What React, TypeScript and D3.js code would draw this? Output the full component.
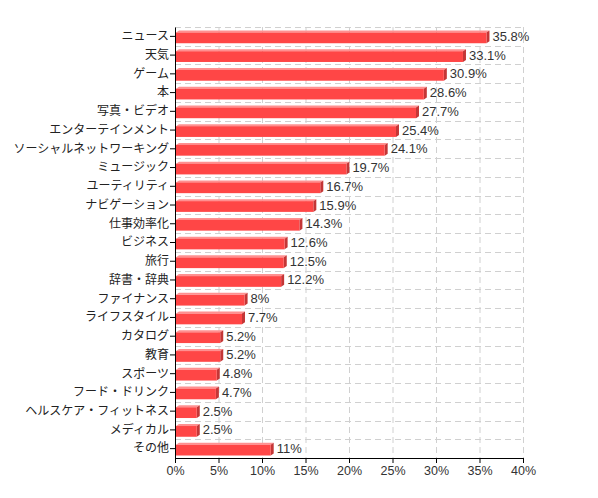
import { useEffect, useRef } from 'react'
import * as d3 from 'd3'

const categories = [
  'ニュース', '天気', 'ゲーム', '本', '写真・ビデオ', 'エンターテインメント',
  'ソーシャルネットワーキング', 'ミュージック', 'ユーティリティ', 'ナビゲーション',
  '仕事効率化', 'ビジネス', '旅行', '辞書・辞典', 'ファイナンス', 'ライフスタイル',
  'カタログ', '教育', 'スポーツ', 'フード・ドリンク', 'ヘルスケア・フィットネス',
  'メディカル', 'その他'
]
const values = [
  35.8, 33.1, 30.9, 28.6, 27.7, 25.4, 24.1, 19.7, 16.7, 15.9, 14.3, 12.6,
  12.5, 12.2, 8, 7.7, 5.2, 5.2, 4.8, 4.7, 2.5, 2.5, 11
]
const xTicks = [0, 5, 10, 15, 20, 25, 30, 35, 40]

const FONT = '"Liberation Sans", Arial, "Noto Sans CJK JP", sans-serif'

export default function App() {
  const svgRef = useRef<SVGSVGElement>(null)

  useEffect(() => {
    if (!svgRef.current) return
    const width = 598
    const height = 498
    const margin = { top: 27, right: 75, bottom: 40, left: 175 }
    const innerWidth = width - margin.left - margin.right
    const innerHeight = height - margin.top - margin.bottom

    const svg = d3.select(svgRef.current)
    svg.selectAll('*').remove()
    svg.attr('width', width).attr('height', height)

    const g = svg.append('g').attr('transform', `translate(${margin.left},${margin.top})`)

    const x = d3.scaleLinear().domain([0, 40]).range([0, innerWidth])
    const y = d3.scaleBand<string>().domain(categories).range([0, innerHeight])
    const bw = y.bandwidth()

    // 网格线
    const grid = g.append('g').attr('stroke', '#d0d0d0').attr('stroke-dasharray', '6,4')
    grid.selectAll('line.v')
      .data(xTicks.slice(1))
      .enter()
      .append('line')
      .attr('x1', d => x(d) + 0.5)
      .attr('x2', d => x(d) + 0.5)
      .attr('y1', 0)
      .attr('y2', innerHeight)
    grid.selectAll('line.h')
      .data(categories)
      .enter()
      .append('line')
      .attr('x1', 0)
      .attr('x2', innerWidth)
      .attr('y1', d => Math.round(y(d)!) + 0.5)
      .attr('y2', d => Math.round(y(d)!) + 0.5)

    // 3D bars
    const depth = 3
    const rise = 2
    const bars = g.selectAll('g.bar')
      .data(categories.map((c, i) => ({ c, v: values[i] })))
      .enter()
      .append('g')

    const top = (d: { c: string }) => y(d.c)! + 5.5
    const bh = bw - 8

    bars.append('polygon')
      .attr('points', d => {
        const x0 = 1, x1 = x(d.v), t = top(d)
        return `${x0},${t} ${x1},${t} ${x1 + depth},${t - rise} ${x0 + depth},${t - rise}`
      })
      .attr('fill', '#ff9090')
    bars.append('polygon')
      .attr('points', d => {
        const x1 = x(d.v), t = top(d)
        return `${x1},${t} ${x1 + depth},${t - rise} ${x1 + depth},${t + bh - rise} ${x1},${t + bh}`
      })
      .attr('fill', '#c43636')
    bars.append('rect')
      .attr('x', 1)
      .attr('y', d => top(d))
      .attr('width', d => x(d.v) - 1)
      .attr('height', bh)
      .attr('fill', '#ff4646')

    bars.append('text')
      .attr('x', d => x(d.v) + depth + 3)
      .attr('y', d => y(d.c)! + bw / 2 + 4.5)
      .attr('font-family', FONT)
      .attr('font-size', '13px')
      .attr('fill', '#333')
      .text(d => `${d.v}%`)

    // Y 轴
    const yAxis = g.append('g')
      .call(d3.axisLeft(y).tickSize(5).tickSizeOuter(0))
    yAxis.select('.domain').attr('stroke', '#000')
    yAxis.selectAll('line').attr('stroke', '#000')
    yAxis.selectAll('text')
      .attr('font-family', FONT)
      .attr('font-size', '12px')
      .attr('fill', '#222')
      .attr('x', -6)

    // X 轴
    const xAxis = g.append('g')
      .attr('transform', `translate(0,${innerHeight})`)
      .call(d3.axisBottom(x).tickValues(xTicks).tickSize(5).tickSizeOuter(0).tickFormat(d => `${d}%`))
    xAxis.select('.domain').attr('stroke', '#000')
    xAxis.selectAll('line').attr('stroke', '#000')
    xAxis.selectAll('text')
      .attr('font-family', FONT)
      .attr('font-size', '12.5px')
      .attr('fill', '#333')
  }, [])

  return (
    <svg ref={svgRef} style={{ position: 'absolute', left: 0, top: 0, background: '#fff' }} />
  )
}
